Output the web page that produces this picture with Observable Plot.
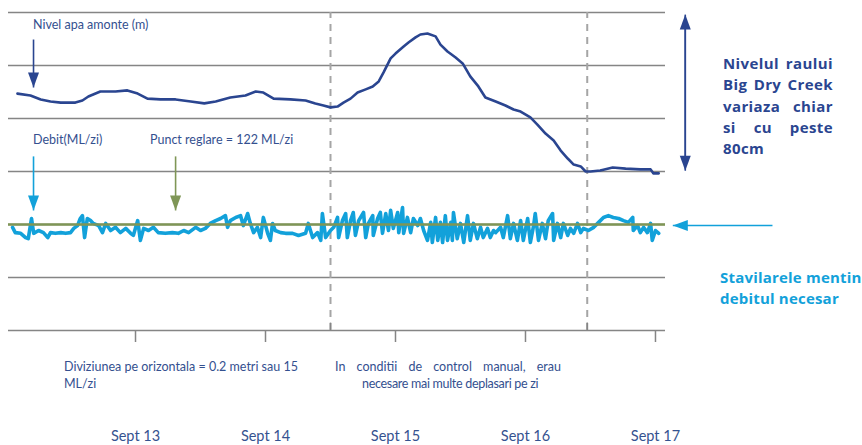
<!DOCTYPE html>
<html><head><meta charset="utf-8">
<script src="https://cdn.jsdelivr.net/npm/d3@7"></script>
<script src="https://cdn.jsdelivr.net/npm/@observablehq/plot@0.6"></script>
<style>
body{margin:0;background:#fff;}
#wrap{position:relative;width:862px;height:445px;font-family:Lato,"Open Sans",sans-serif;overflow:hidden;}
#wrap svg{position:absolute;left:0;top:0;}
.t{position:absolute;color:#34508f;font-size:12.5px;line-height:16px;white-space:nowrap;}
.j{white-space:nowrap;text-align:justify;text-align-last:justify;}
.b{position:absolute;font-family:"Open Sans",sans-serif;font-weight:700;font-size:15px;letter-spacing:0.4px;line-height:21.3px;}
</style></head><body><div id="wrap"></div>
<script>
// ---- data (hours from Sept 13 00:00) ----
const levelHours = [-9.8,-7.4,-5.5,-3.7,-1.8,0.9,2.2,3.3,5.5,8.3,10.5,12.4,14.2,16.6,19.4,22.2,24.7,26.8,29.5,32.3,34.2,35.6,37.5,40.6,43.4,45.2,46.7,48.0,49.3,50.4,51.7,53.0,54.5,55.8,56.9,57.8,59.1,60.0,61.5,62.4,63.7,64.6,65.9,67.4,68.3,69.6,71.1,72.4,73.8,75.3,76.6,78.5,80.3,81.8,83.1,84.9,86.2,87.7,89.2,90.5,91.8,92.9,94.2,95.1,96.0,97.8,100.1,102.5,105.2,107.1,107.6,108.6];
const levelMeters = [0.894,0.887,0.872,0.864,0.860,0.860,0.868,0.883,0.902,0.902,0.906,0.894,0.875,0.872,0.872,0.864,0.857,0.864,0.879,0.887,0.902,0.898,0.875,0.872,0.868,0.857,0.849,0.842,0.845,0.860,0.875,0.898,0.910,0.921,0.940,0.974,1.027,1.045,1.072,1.087,1.106,1.117,1.121,1.110,1.079,1.053,1.030,1.008,0.959,0.921,0.879,0.864,0.849,0.834,0.826,0.804,0.777,0.743,0.717,0.679,0.649,0.626,0.619,0.600,0.600,0.604,0.615,0.611,0.608,0.608,0.593,0.593];

const flowHours = [-10.7,-10.2,-9.2,-8.3,-7.8,-7.2,-6.8,-5.9,-5.0,-4.2,-3.7,-2.8,-1.8,-0.9,0,0.6,1.3,1.8,2.2,2.6,3.1,3.7,4.2,5.2,5.9,6.5,7.4,8.3,9.2,10.2,11.1,11.6,12.4,12.9,13.5,14.4,15.3,16.2,
17.5,18.8,19.9,20.9,21.8,23.1,24.0,24.9,25.8,26.8,27.7,28.6,29.0,29.5,30.5,31.4,31.9,32.7,33.2,33.8,34.5,35.1,35.6,36.4,36.9,37.3,37.8,38.8,39.7,41.0,42.1,43.4,43.9,44.7,45.6,46.2,46.5,47.1,48.0,48.6,
49.3,49.5,50.2,50.8,51.1,51.7,52.2,52.6,53.2,54.1,54.5,55.0,55.8,55.9,56.7,57.2,57.6,58.2,58.7,59.1,59.6,60.4,60.6,61.3,61.5,62.2,62.8,63.3,64.1,64.6,65.2,65.9,66.5,66.8,67.4,67.8,68.3,68.7,69.2,69.6,70.2,70.5,70.7,71.4,72.0,72.6,73.3,73.8,74.4,75.1,75.7,76.2,77.0,77.5,78.1,
78.5,79.4,79.9,80.7,81.2,81.8,82.5,83.1,83.6,84.4,84.9,85.5,85.8,86.4,87.1,87.7,88.2,89.0,89.2,89.9,90.5,91.0,91.8,92.3,92.9,93.6,94.2,94.7,95.6,96.6,97.5,98.4,99.3,100.2,101.2,102.1,103.0,103.8,103.9,104.7,105.2,105.8,106.5,107.1,107.4,108.0,108.6];
const flowML = [121.2,119.7,119.5,118.3,118.0,123.7,119.5,120.3,119.7,118.3,119.7,119.5,119.7,119.5,119.7,120.9,121.7,123.7,124.5,118.3,123.7,123.1,122.3,121.7,119.7,122.3,120.3,121.2,119.7,120.9,119.5,118.9,123.1,117.5,120.9,120.3,121.2,119.7,
119.5,119.7,119.5,120.3,119.7,121.2,120.3,120.9,122.3,123.1,123.7,124.5,121.2,123.1,124.0,124.5,121.7,125.1,122.3,119.7,121.2,118.3,124.0,119.5,117.5,122.3,120.3,119.7,119.5,119.5,118.9,119.5,122.3,118.3,119.7,117.5,125.1,118.3,120.3,121.2,
124.0,118.3,123.1,125.1,118.3,123.1,125.4,118.9,123.1,125.4,118.3,122.3,124.5,118.9,123.7,125.4,119.5,125.1,120.3,126.0,120.9,125.4,119.7,126.8,119.5,124.0,119.7,123.7,121.7,123.7,120.3,117.5,122.6,116.9,124.0,117.5,122.6,116.9,124.5,117.5,122.6,117.5,125.4,118.0,122.3,116.9,124.5,117.5,122.3,118.0,121.2,118.3,120.9,118.3,120.3,
119.7,121.2,118.3,124.5,118.0,122.3,117.5,123.1,117.5,123.7,116.9,121.7,125.1,117.5,122.3,118.0,123.1,125.1,117.5,122.3,118.3,122.3,118.9,120.9,119.5,122.3,119.7,120.9,120.3,121.2,122.6,124.0,124.5,124.0,123.7,123.1,122.6,124.0,120.3,121.7,119.7,121.2,119.7,122.3,117.5,120.3,119.5];

const setpointML = 122;          // Punct reglare
const mlPerDivision = 15;        // ML/zi per division
const mPerDivision = 0.2;        // metri per division
const setpointMeters = 0.4;      // gridline where the set point sits
const gridMeters = [0, 0.2, 0.4, 0.6, 0.8, 1.0, 1.2];
const dayLabels = ["Sept 13", "Sept 14", "Sept 15", "Sept 16", "Sept 17"];
const dayNoonHours = [12, 36, 60, 84, 108];
const manualControlBounds = [48, 95.4];

// ---- tables ----
const level = levelHours.map((h, i) => ({h, v: levelMeters[i]}));
const toMeters = ml => setpointMeters + (ml - setpointML) / mlPerDivision * mPerDivision;
const flow = flowHours.map((h, i) => ({h, v: toMeters(flowML[i])}));

const darkBlue = "#2a4590", lightBlue = "#12a1da", olive = "#7f9656", grid = "#858585";

// elongated filled arrowhead, tip at the origin, pointing up
const head = {draw(ctx) { ctx.moveTo(0, 0); ctx.lineTo(5.5, 15); ctx.lineTo(-5.5, 15); ctx.closePath(); }};

const arrows = [
  {x1: -6.83, y1: 1.098, x2: -6.83, y2: 0.917, c: darkBlue, rot: 180},
  {x1: -6.83, y1: 0.657, x2: -6.83, y2: 0.453, c: lightBlue, rot: 180},
  {x1: 19.4, y1: 0.657, x2: 19.4, y2: 0.453, c: olive, rot: 180},
  {x1: 113.5, y1: 0.62, x2: 113.5, y2: 1.192, c: darkBlue, rot: 0},
  {x1: 113.5, y1: 1.17, x2: 113.5, y2: 0.603, c: darkBlue, rot: 180},
  {x1: 129.6, y1: 0.396, x2: 111.2, y2: 0.396, c: lightBlue, rot: -90}
];

const chart = Plot.plot({
  width: 862, height: 445,
  marginLeft: 8, marginRight: 197, marginTop: 12, marginBottom: 115,
  x: {domain: [-11.45, 109.85], axis: null},
  y: {domain: [0, 1.2], axis: null},
  style: {background: "transparent", fontFamily: "Lato, sans-serif", overflow: "visible"},
  marks: [
    Plot.ruleY(gridMeters, {stroke: grid, strokeWidth: 1.3}),
    Plot.ruleX(manualControlBounds, {y1: 0, y2: 1.2, stroke: "#a5a5a5", strokeWidth: 2, strokeDasharray: "7,6"}),
    Plot.ruleX(manualControlBounds, {y1: 0, y2: 0.028, stroke: grid, strokeWidth: 1.5}),
    Plot.axisX({ticks: dayNoonHours, tickSize: 12, stroke: grid, strokeWidth: 1.5, text: null}),
    Plot.axisX({ticks: dayNoonHours, tickSize: 0, tickPadding: 100, tickFormat: d => dayLabels[dayNoonHours.indexOf(d)], fill: "#35528f", fontSize: 14.5}),
    Plot.line(level, {x: "h", y: "v", stroke: darkBlue, strokeWidth: 2.6, curve: "linear"}),
    Plot.line(flow, {x: "h", y: "v", stroke: lightBlue, strokeWidth: 3.6, strokeLinejoin: "round"}),
    Plot.ruleY([setpointMeters], {stroke: olive, strokeWidth: 2.6}),
    Plot.link(arrows, {x1: "x1", y1: "y1", x2: "x2", y2: "y2", stroke: d => d.c, strokeWidth: 1.6}),
    Plot.dot(arrows, {x: "x2", y: "y2", symbol: head, r: 6, fill: d => d.c, stroke: null, rotate: "rot"})
  ]
});

const wrap = document.getElementById("wrap");
wrap.appendChild(chart);

function note(html, left, top, cls, extra) {
  const d = document.createElement("div");
  d.className = cls;
  d.style.left = left + "px"; d.style.top = top + "px";
  if (extra) Object.assign(d.style, extra);
  d.innerHTML = html;
  wrap.appendChild(d);
}
note("Nivel apa amonte (m)", 33, 17, "t");
note("Debit(ML/zi)", 33, 132, "t");
note("Punct reglare = 122 ML/zi", 150, 132, "t");
note('<div class="j" style="width:231px">Diviziunea pe orizontala = 0.2 metri sau 15</div><div>ML/zi</div>', 64, 358, "t", {lineHeight: "17px"});
note('<div class="j" style="width:226px">In conditii de control manual, erau</div><div style="margin-left:27px;letter-spacing:-0.3px">necesare mai multe deplasari pe zi</div>', 335, 358, "t", {lineHeight: "17px"});
note('<div class="j">Nivelul raului</div><div class="j">Big Dry Creek</div><div class="j">variaza chiar</div><div class="j">si cu peste</div><div>80cm</div>', 723, 53, "b", {width: "110px", color: darkBlue});
note('<div class="j" style="width:140px">Stavilarele mentin</div><div>debitul necesar</div>', 720, 267, "b", {color: lightBlue, letterSpacing: "0.2px"});
</script></body></html>
